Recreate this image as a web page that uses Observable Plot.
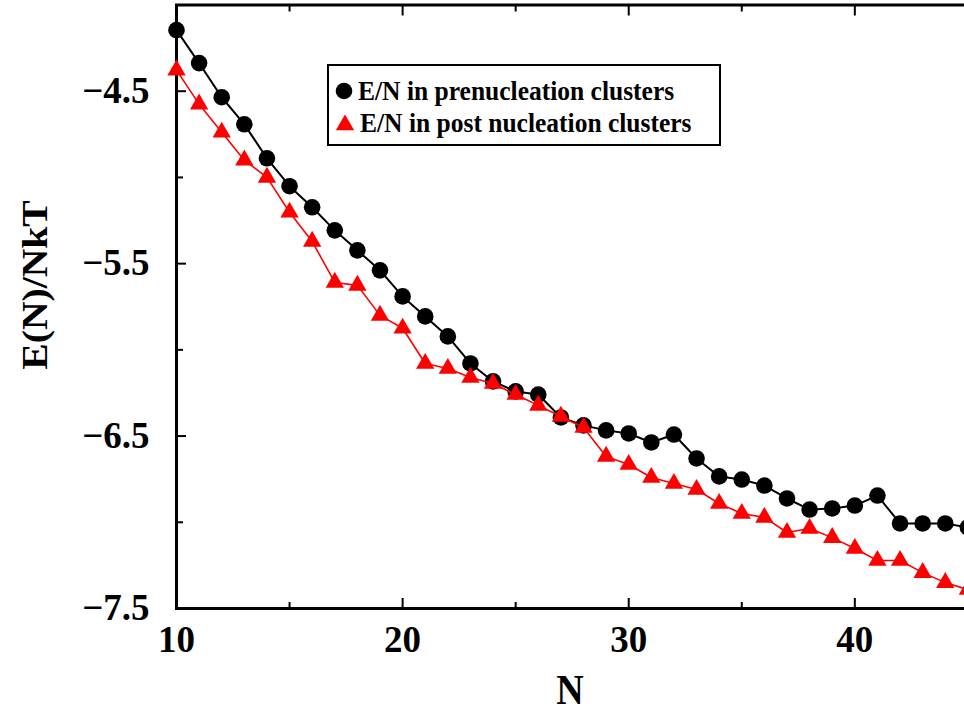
<!DOCTYPE html>
<html><head><meta charset="utf-8">
<script src="https://cdn.jsdelivr.net/npm/d3@7"></script>
<script src="https://cdn.jsdelivr.net/npm/@observablehq/plot@0.6"></script>
<style>
html,body{margin:0;padding:0;background:#fff;overflow:hidden;width:964px;height:715px}
#wrap{position:relative;width:964px;height:715px;overflow:hidden;font-family:"Liberation Serif","Times New Roman",serif;font-weight:bold;color:#000}
#chart{position:absolute;left:0;top:0;width:992px}
#chart svg{max-width:none !important}
.lab{position:absolute;white-space:nowrap;line-height:1}
#xlab{left:570px;top:690px;transform:translate(-50%,-50%) scaleY(1.1);font-size:38px}
#ylab{left:35px;top:285px;transform:translate(-50%,-50%) rotate(-90deg) scaleX(1.1);font-size:36px}
#legend{position:absolute;left:327px;top:64px;width:390px;height:78px;border:2px solid #000;background:#fff;font-size:25.5px}
.row{position:absolute;left:6px;display:flex;align-items:center;height:26px}
.row svg{margin-right:5px}
.row span{display:inline-block;transform:scaleY(1.1)}
</style></head>
<body><div id="wrap"><div id="chart"></div>
<div id="xlab" class="lab">N</div>
<div id="ylab" class="lab">E(N)/NkT</div>
<div id="legend"></div>
</div>
<script>
const N = d3.range(10, 46);
const preNucleation = [-4.146,-4.337,-4.535,-4.692,-4.889,-5.051,-5.173,-5.307,-5.423,-5.539,-5.690,-5.806,-5.922,-6.079,-6.183,-6.241,-6.259,-6.392,-6.438,-6.467,-6.485,-6.537,-6.491,-6.630,-6.734,-6.752,-6.787,-6.862,-6.926,-6.920,-6.903,-6.845,-7.007,-7.007,-7.007,-7.030];
const postNucleation = [-4.378,-4.575,-4.738,-4.900,-5.000,-5.202,-5.371,-5.609,-5.626,-5.800,-5.875,-6.079,-6.108,-6.160,-6.195,-6.259,-6.322,-6.386,-6.450,-6.618,-6.665,-6.740,-6.775,-6.810,-6.891,-6.949,-6.972,-7.059,-7.036,-7.089,-7.152,-7.222,-7.222,-7.292,-7.350,-7.390];
const seriesNames = ["E/N in prenucleation clusters", "E/N in post nucleation clusters"];
const xMajor = [10, 20, 30, 40];
const xMinor = [15, 25, 35, 45];
const yMajor = [-4.5, -5.5, -6.5, -7.5];
const yMinor = [-4, -5, -6, -7];

const pre = N.map((n, i) => ({N: n, E: preNucleation[i]}));
const post = N.map((n, i) => ({N: n, E: postNucleation[i]}));

const font = {fontSize: 37, fontWeight: "bold"};
const chart = Plot.plot({
  width: 992, height: 715,
  marginLeft: 176, marginRight: 2, marginTop: 4.5, marginBottom: 107,
  style: {fontFamily: "'Liberation Serif','Times New Roman',serif", background: "white", color: "black", overflow: "visible", maxWidth: "none"},
  x: {domain: [10, 46], label: null},
  y: {domain: [-7.5, -4.0], label: null},
  marks: [
    Plot.axisY({ticks: yMajor, tickSize: 0, tickPadding: 27, label: null, ...font}),
    Plot.axisY({ticks: yMajor, tickSize: -10, strokeWidth: 2, fill: "none", label: null}),
    Plot.axisY({ticks: yMinor, tickSize: -7, strokeWidth: 2, fill: "none", label: null}),
    Plot.axisX({ticks: xMajor, tickSize: 0, tickPadding: 17, label: null, ...font}),
    Plot.axisX({ticks: xMajor, tickSize: -10, strokeWidth: 2, fill: "none", label: null}),
    Plot.axisX({ticks: xMinor, tickSize: -6, strokeWidth: 2, fill: "none", label: null}),
    Plot.axisX({anchor: "top", ticks: xMajor, tickSize: -10, strokeWidth: 2, fill: "none", label: null}),
    Plot.axisX({anchor: "top", ticks: xMinor, tickSize: -6, strokeWidth: 2, fill: "none", label: null}),
    Plot.frame({strokeWidth: 3}),
    Plot.line(pre, {x: "N", y: "E", stroke: "black", strokeWidth: 2}),
    Plot.dot(pre, {x: "N", y: "E", r: 8.3, fill: "black", symbol: "circle"}),
    Plot.line(post, {x: "N", y: "E", stroke: "#ff0000", strokeWidth: 1.6}),
    Plot.dot(post, {x: "N", y: "E", r: 6.8, fill: "#ff0000", symbol: "triangle"})
  ]
});
document.getElementById("chart").appendChild(chart);

// legend
const legend = document.getElementById("legend");
const symbols = [
  '<svg width="18" height="18"><circle cx="9" cy="9" r="8.3" fill="black"/></svg>',
  '<svg width="20" height="18"><path d="' + d3.symbol(d3.symbolTriangle, Math.PI * 6.8 * 6.8)() + '" transform="translate(10,11)" fill="#ff0000"/></svg>'
];
seriesNames.forEach((name, i) => {
  const row = document.createElement("div");
  row.className = "row";
  row.style.top = (12 + i * 32) + "px";
  row.innerHTML = symbols[i] + "<span>" + name + "</span>";
  legend.appendChild(row);
});
</script>
</body></html>
